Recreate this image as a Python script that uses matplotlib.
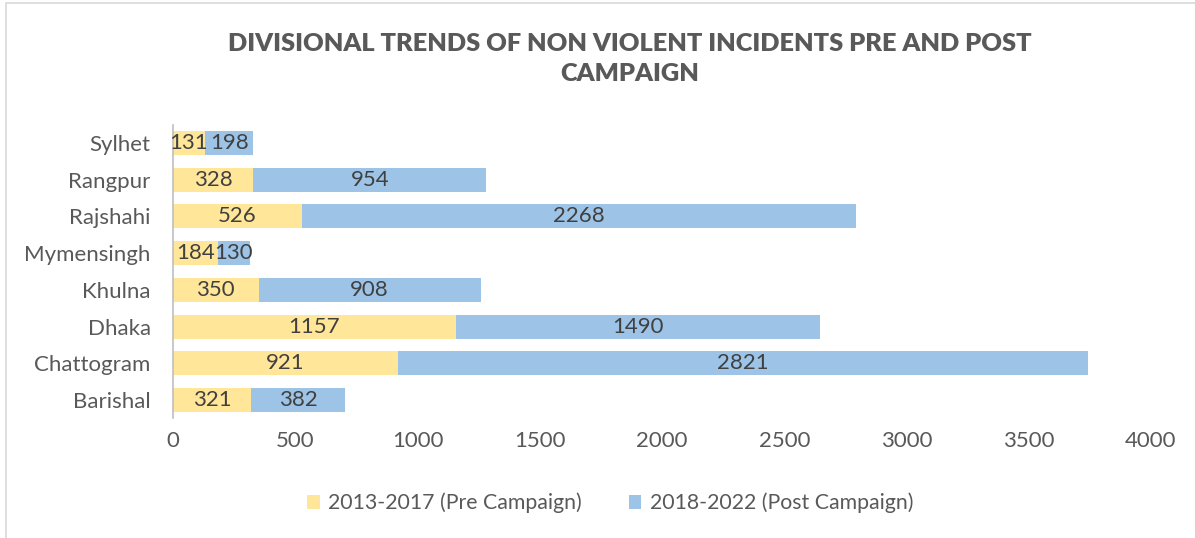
import matplotlib
matplotlib.use("Agg")
import matplotlib.pyplot as plt
from matplotlib.patches import Rectangle

divisions = ["Barishal", "Chattogram", "Dhaka", "Khulna", "Mymensingh", "Rajshahi", "Rangpur", "Sylhet"]
pre = [321, 921, 1157, 350, 184, 526, 328, 131]
post = [382, 2821, 1490, 908, 130, 2268, 954, 198]
xticks = [0, 500, 1000, 1500, 2000, 2500, 3000, 3500, 4000]
series_names = ["2013-2017 (Pre Campaign)", "2018-2022 (Post Campaign)"]
title = "DIVISIONAL TRENDS OF NON VIOLENT INCIDENTS PRE AND POST\nCAMPAIGN"

plt.rcParams['font.family'] = ['Lato', 'DejaVu Sans']
C_PRE = "#FFE699"
C_POST = "#9DC3E6"
TXT = "#595959"
LBL = "#404040"
FS = 16

fig = plt.figure(figsize=(11.95, 5.38), dpi=100)
fig.patches.append(Rectangle((6/1195, -0.1), 1.2, 1.094, transform=fig.transFigure,
                             fill=False, edgecolor="#D9D9D9", linewidth=1.2))
ax = fig.add_axes([173/1195, 1-418.4/538, 978/1195, 293.8/538])

y = list(range(len(divisions)))
b1 = ax.barh(y, pre, height=0.65, color=C_PRE, label=series_names[0])
b2 = ax.barh(y, post, left=pre, height=0.65, color=C_POST, label=series_names[1])
ax.bar_label(b1, labels=[str(v) for v in pre], label_type='center', fontsize=FS, color=LBL)
ax.bar_label(b2, labels=[str(v) for v in post], label_type='center', fontsize=FS, color=LBL)

ax.set_xlim(0, 4000)
ax.set_ylim(-0.5, len(divisions) - 0.5)
ax.set_xticks(xticks)
ax.set_xticklabels([str(t) for t in xticks])
ax.set_yticks(y)
ax.set_yticklabels(divisions)
ax.tick_params(axis='both', length=0, labelsize=FS, colors=TXT)
ax.tick_params(axis='x', pad=9)
ax.tick_params(axis='y', pad=16)
for s in ["top", "right", "bottom"]:
    ax.spines[s].set_visible(False)
ax.spines["left"].set_color("#BFBFBF")
ax.spines["left"].set_linewidth(1.2)

fig.text(630/1195, 1-59/538, title, ha='center', va='center', fontsize=18.3,
         fontweight='heavy', color=TXT, linespacing=1.45)

fig.legend(handles=[b1, b2], labels=series_names, loc='center', bbox_to_anchor=(610/1195, 1-503/538),
           ncol=2, frameon=False, fontsize=15.3, labelcolor=TXT, handlelength=0.6, handleheight=0.6,
           handletextpad=0.4, columnspacing=2.2)

fig.savefig("out.png", dpi=100)
